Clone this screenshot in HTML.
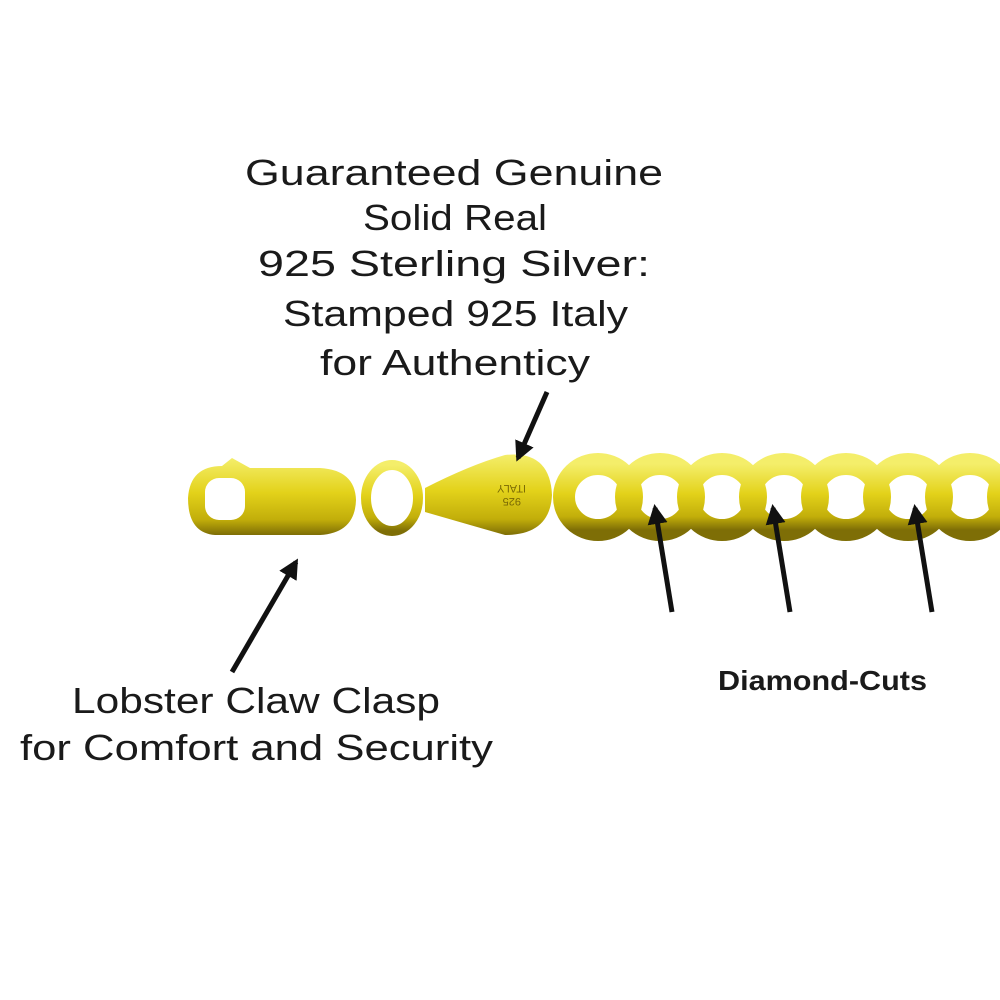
<!DOCTYPE html>
<html><head><meta charset="utf-8"><style>
html,body{margin:0;padding:0;background:#fff;}
svg{display:block}
text{font-family:"Liberation Sans",sans-serif;fill:#1a1a1a}
</style></head><body>
<svg width="1000" height="1000" viewBox="0 0 1000 1000">
<defs>
<linearGradient id="g" x1="0" y1="0" x2="0" y2="1">
<stop offset="0" stop-color="#f4ee6a"/><stop offset="0.45" stop-color="#e3d21a"/><stop offset="0.8" stop-color="#c2ae0a"/><stop offset="1" stop-color="#7e6e06"/>
</linearGradient>
<marker id="ah" viewBox="0 0 10 10" refX="8" refY="5" markerWidth="4" markerHeight="4" orient="auto"><path d="M0,0 L10,5 L0,10 z" fill="#111"/></marker>
</defs>
<g fill="none" stroke="url(#g)" stroke-width="22">
<ellipse cx="598" cy="497" rx="34" ry="33"/>
<ellipse cx="660" cy="497" rx="34" ry="33"/>
<ellipse cx="722" cy="497" rx="34" ry="33"/>
<ellipse cx="784" cy="497" rx="34" ry="33"/>
<ellipse cx="846" cy="497" rx="34" ry="33"/>
<ellipse cx="908" cy="497" rx="34" ry="33"/>
<ellipse cx="970" cy="497" rx="34" ry="33"/>
<ellipse cx="1032" cy="497" rx="34" ry="33"/>
</g>
<path d="M425,488 Q470,465 505,455 Q550,450 552,495 Q550,535 505,535 Q470,525 425,512 z" fill="url(#g)"/>
<text x="490" y="475" font-size="11" transform="rotate(180 508 480)" style="fill:#7a6a05">ITALY</text>
<text x="495" y="492" font-size="11" transform="rotate(180 508 495)" style="fill:#7a6a05">925</text>
<ellipse cx="392" cy="498" rx="26" ry="33" fill="none" stroke="url(#g)" stroke-width="10"/>
<path d="M232,458 L250,468 L320,468 Q355,470 356,500 Q355,533 320,535 L215,535 Q188,533 188,498 Q190,466 222,466 z" fill="url(#g)"/>
<rect x="205" y="478" width="40" height="42" rx="14" fill="#fff"/>
<g font-size="36">
<text x="245" y="185" textLength="418" lengthAdjust="spacingAndGlyphs">Guaranteed Genuine</text>
<text x="363" y="230" textLength="184" lengthAdjust="spacingAndGlyphs">Solid Real</text>
<text x="258" y="276" textLength="392" lengthAdjust="spacingAndGlyphs">925 Sterling Silver:</text>
<text x="283" y="326" textLength="345" lengthAdjust="spacingAndGlyphs">Stamped 925 Italy</text>
<text x="320" y="375" textLength="270" lengthAdjust="spacingAndGlyphs">for Authenticy</text>
<text x="72" y="713" textLength="368" lengthAdjust="spacingAndGlyphs">Lobster Claw Clasp</text>
<text x="20" y="760" textLength="473" lengthAdjust="spacingAndGlyphs">for Comfort and Security</text>
</g>
<text x="718" y="690" font-size="28" font-weight="bold" textLength="209" lengthAdjust="spacingAndGlyphs">Diamond-Cuts</text>
<g stroke="#111" stroke-width="5" marker-end="url(#ah)">
<line x1="547" y1="392" x2="518" y2="458"/>
<line x1="232" y1="672" x2="296" y2="562"/>
<line x1="672" y1="612" x2="655" y2="508"/>
<line x1="790" y1="612" x2="773" y2="508"/>
<line x1="932" y1="612" x2="915" y2="508"/>
</g>
</svg>
</body></html>
